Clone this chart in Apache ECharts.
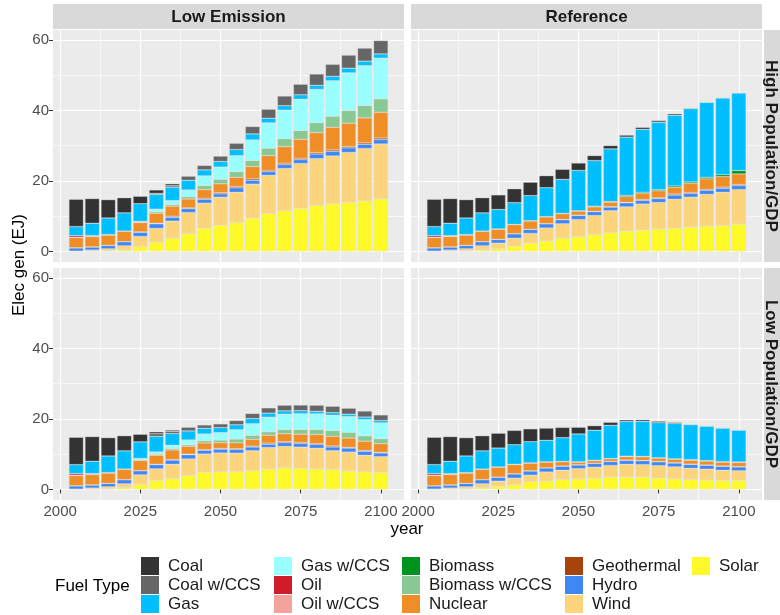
<!DOCTYPE html>
<html>
<head>
<meta charset="utf-8">
<script src="https://cdn.jsdelivr.net/npm/echarts@6/dist/echarts.min.js"></script>
<style>
  html, body { margin: 0; padding: 0; background: #ffffff; }
  #chart { width: 780px; height: 615px; }
</style>
</head>
<body>
<div id="chart"></div>
<script>
// Electricity generation by fuel (EJ), 5-year steps, faceted by policy x growth case
const years = [2005, 2010, 2015, 2020, 2025, 2030, 2035, 2040, 2045, 2050,
               2055, 2060, 2065, 2070, 2075, 2080, 2085, 2090, 2095, 2100];

const fuels = ['Coal', 'Coal w/CCS', 'Gas', 'Gas w/CCS', 'Oil', 'Oil w/CCS',
               'Biomass', 'Biomass w/CCS', 'Nuclear', 'Geothermal', 'Hydro', 'Wind', 'Solar'];

const fuelColors = ['#333333', '#666666', '#00bfff', '#99ffff', '#d01c2a', '#f4a29c',
                    '#00931d', '#88c892', '#ef8e27', '#a6440c', '#3f87f5', '#fcd47c', '#fefa2a'];

const policies = ['Low Emission', 'Reference'];
const growthCases = ['High Population/GDP', 'Low Population/GDP'];

const xTickLabels = [2000, 2025, 2050, 2075, 2100];
const yTickLabels = [0, 20, 40, 60];

// Low Emission, High Population/GDP
const lowEmissionHigh = {
  'Coal':          [7.75, 7.0, 5.2, 4.3, 2.1, 0.95, 0.5, 0, 0, 0, 0, 0, 0, 0, 0, 0, 0, 0, 0, 0],
  'Coal w/CCS':    [0, 0, 0, 0, 0, 0.35, 0.45, 1.15, 1.25, 1.5, 1.8, 2.1, 2.55, 2.75, 3.0, 3.2, 3.4, 3.7, 3.7, 3.8],
  'Gas':           [2.55, 3.5, 4.7, 5.15, 5.0, 4.15, 3.8, 2.75, 1.7, 1.6, 1.7, 1.7, 1.3, 1.25, 1.25, 1.15, 1.25, 1.3, 1.25, 1.2],
  'Gas w/CCS':     [0, 0, 0, 0, 0.25, 0.75, 1.15, 1.9, 2.75, 3.5, 4.55, 5.85, 7.2, 8.1, 8.9, 9.45, 10.1, 10.7, 11.35, 11.55],
  'Oil':           [0.45, 0.15, 0.05, 0, 0, 0, 0, 0, 0, 0, 0, 0, 0, 0, 0, 0, 0, 0, 0, 0],
  'Oil w/CCS':     [0, 0, 0, 0, 0, 0, 0, 0, 0, 0, 0, 0, 0, 0, 0, 0, 0, 0, 0, 0],
  'Biomass':       [0.1, 0.1, 0.1, 0.1, 0.05, 0, 0, 0, 0, 0, 0, 0, 0, 0, 0, 0, 0, 0, 0, 0],
  'Biomass w/CCS': [0, 0, 0, 0, 0.05, 0.4, 0.45, 0.65, 1.15, 1.25, 1.6, 1.7, 2.1, 2.25, 2.45, 2.85, 3.1, 3.6, 3.5, 3.8],
  'Nuclear':       [2.9, 2.95, 2.9, 2.9, 2.65, 2.85, 2.85, 2.55, 2.45, 2.55, 2.65, 3.5, 4.15, 4.7, 5.4, 5.65, 6.45, 6.6, 7.1, 7.3],
  'Geothermal':    [0.05, 0.05, 0.05, 0.05, 0.1, 0.15, 0.3, 0.2, 0.3, 0.3, 0.35, 0.4, 0.4, 0.4, 0.4, 0.4, 0.4, 0.4, 0.4, 0.45],
  'Hydro':         [0.9, 0.85, 0.95, 1.15, 1.2, 1.3, 1.1, 1.1, 1.1, 0.95, 1.25, 1.1, 1.05, 1.1, 1.1, 1.3, 1.3, 1.3, 1.2, 1.25],
  'Wind':          [0.1, 0.3, 0.55, 1.15, 2.85, 3.9, 4.8, 6.05, 7.1, 8.0, 8.6, 9.65, 10.9, 12.0, 12.75, 13.3, 13.6, 14.2, 14.85, 15.6],
  'Solar':         [0, 0.1, 0.2, 0.45, 1.4, 2.65, 3.8, 5.0, 6.6, 7.4, 8.2, 9.45, 10.7, 11.55, 12.2, 13.05, 13.5, 13.9, 14.35, 14.9]
};

// Reference, High Population/GDP
const referenceHigh = {
  'Coal':          [7.75, 7.0, 5.2, 4.3, 4.15, 3.95, 3.8, 3.4, 2.85, 2.1, 1.4, 0.95, 0.55, 0.55, 0.45, 0.4, 0.2, 0.1, 0.05, 0.05],
  'Coal w/CCS':    [0, 0, 0, 0, 0, 0, 0, 0, 0, 0, 0, 0, 0, 0, 0, 0, 0, 0, 0, 0],
  'Gas':           [2.55, 3.5, 4.7, 5.15, 5.5, 6.15, 7.1, 8.2, 9.65, 11.45, 12.95, 14.9, 16.55, 17.85, 19.2, 20.05, 20.8, 21.25, 21.75, 22.0],
  'Gas w/CCS':     [0, 0, 0, 0, 0, 0, 0, 0, 0, 0, 0, 0, 0, 0, 0, 0, 0, 0, 0, 0],
  'Oil':           [0.45, 0.15, 0.05, 0, 0, 0, 0, 0, 0, 0, 0, 0, 0, 0, 0, 0, 0, 0, 0, 0],
  'Oil w/CCS':     [0, 0, 0, 0, 0, 0, 0, 0, 0, 0, 0, 0, 0, 0, 0, 0, 0, 0, 0, 0],
  'Biomass':       [0.1, 0.1, 0.1, 0.1, 0.1, 0.1, 0.1, 0.1, 0.1, 0.1, 0.2, 0.2, 0.35, 0.4, 0.3, 0.4, 0.4, 0.45, 0.55, 0.95],
  'Biomass w/CCS': [0, 0, 0, 0, 0, 0, 0, 0, 0, 0, 0, 0, 0, 0, 0, 0, 0, 0, 0, 0],
  'Nuclear':       [2.9, 2.95, 2.9, 2.9, 2.85, 2.55, 2.35, 1.9, 1.6, 1.15, 1.25, 1.3, 1.6, 1.7, 2.0, 1.9, 2.55, 2.95, 3.0, 3.0],
  'Geothermal':    [0.05, 0.05, 0.05, 0.05, 0.05, 0.05, 0.05, 0.05, 0.1, 0.1, 0.1, 0.1, 0.15, 0.2, 0.2, 0.3, 0.3, 0.3, 0.3, 0.3],
  'Hydro':         [0.9, 0.85, 0.95, 1.15, 1.05, 1.25, 1.15, 1.2, 1.15, 1.15, 1.1, 1.05, 1.15, 1.05, 1.1, 1.2, 1.05, 1.15, 1.15, 1.15],
  'Wind':          [0.1, 0.3, 0.55, 1.15, 1.6, 2.25, 2.75, 3.7, 4.05, 4.9, 5.4, 6.25, 6.9, 7.4, 7.55, 8.2, 8.5, 9.0, 9.45, 9.8],
  'Solar':         [0, 0.1, 0.2, 0.45, 0.75, 1.5, 2.35, 2.95, 3.8, 4.15, 4.8, 5.3, 5.75, 6.05, 6.35, 6.6, 6.9, 7.2, 7.35, 7.75]
};

// Low Emission, Low Population/GDP
const lowEmissionLow = {
  'Coal':          [7.75, 7.0, 5.2, 4.3, 2.15, 0.55, 0.35, 0, 0, 0, 0, 0, 0, 0, 0, 0, 0, 0, 0, 0],
  'Coal w/CCS':    [0, 0, 0, 0, 0, 0.75, 0.65, 1.05, 0.95, 1.05, 1.2, 1.4, 1.5, 1.6, 1.6, 1.7, 1.8, 1.7, 1.7, 1.6],
  'Gas':           [2.55, 3.5, 4.7, 5.15, 4.7, 4.4, 3.3, 2.55, 1.6, 1.4, 1.4, 1.5, 1.15, 0.95, 0.85, 0.75, 0.75, 0.65, 0.75, 0.65],
  'Gas w/CCS':     [0, 0, 0, 0, 0.45, 0.65, 0.95, 1.4, 1.9, 2.15, 2.65, 3.3, 4.15, 4.35, 4.5, 4.45, 4.35, 4.5, 4.6, 4.5],
  'Oil':           [0.45, 0.15, 0.05, 0, 0, 0, 0, 0, 0, 0, 0, 0, 0, 0, 0, 0, 0, 0, 0, 0],
  'Oil w/CCS':     [0, 0, 0, 0, 0, 0, 0, 0, 0, 0, 0, 0, 0, 0, 0, 0, 0, 0, 0, 0],
  'Biomass':       [0.1, 0.1, 0.1, 0.1, 0.05, 0, 0, 0, 0, 0, 0, 0, 0, 0, 0, 0, 0, 0, 0, 0],
  'Biomass w/CCS': [0, 0, 0, 0, 0.05, 0.3, 0.4, 0.4, 0.65, 0.75, 1.05, 1.15, 0.95, 1.2, 1.3, 1.4, 1.6, 1.6, 1.5, 1.4],
  'Nuclear':       [2.9, 2.95, 2.9, 2.9, 2.9, 2.55, 2.75, 2.25, 1.9, 1.6, 1.7, 1.9, 2.25, 2.25, 2.35, 2.55, 2.75, 2.65, 2.65, 2.45],
  'Geothermal':    [0.05, 0.05, 0.05, 0.05, 0.05, 0.1, 0.1, 0.15, 0.2, 0.2, 0.2, 0.25, 0.3, 0.3, 0.3, 0.3, 0.3, 0.2, 0.2, 0.2],
  'Hydro':         [0.9, 0.85, 0.95, 1.15, 1.15, 1.2, 1.2, 1.2, 1.05, 1.1, 1.05, 1.05, 0.95, 1.05, 1.05, 1.05, 1.05, 1.15, 1.15, 1.05],
  'Wind':          [0.1, 0.3, 0.55, 1.15, 2.75, 3.3, 4.05, 4.7, 5.15, 5.35, 5.25, 5.65, 6.1, 6.1, 6.0, 5.9, 5.35, 5.35, 4.7, 4.5],
  'Solar':         [0, 0.1, 0.2, 0.45, 1.4, 2.55, 3.1, 3.95, 4.9, 5.0, 5.05, 5.35, 5.8, 6.1, 6.0, 5.8, 5.65, 5.25, 5.0, 4.8]
};

// Reference, Low Population/GDP
const referenceLow = {
  'Coal':          [7.75, 7.0, 5.2, 4.3, 4.2, 4.05, 3.65, 3.45, 2.9, 1.9, 1.3, 0.85, 0.45, 0.45, 0.4, 0.3, 0.1, 0.05, 0.05, 0.05],
  'Coal w/CCS':    [0, 0, 0, 0, 0, 0, 0, 0, 0, 0, 0, 0, 0, 0, 0, 0, 0, 0, 0, 0],
  'Gas':           [2.55, 3.5, 4.7, 5.15, 5.35, 5.55, 6.0, 6.1, 6.75, 7.9, 8.5, 9.4, 9.85, 9.95, 9.95, 10.0, 9.95, 9.75, 9.5, 9.0],
  'Gas w/CCS':     [0, 0, 0, 0, 0, 0, 0, 0, 0, 0, 0, 0, 0, 0, 0, 0, 0, 0, 0, 0],
  'Oil':           [0.45, 0.15, 0.05, 0, 0, 0, 0, 0, 0, 0, 0, 0, 0, 0, 0, 0, 0, 0, 0, 0],
  'Oil w/CCS':     [0, 0, 0, 0, 0, 0, 0, 0, 0, 0, 0, 0, 0, 0, 0, 0, 0, 0, 0, 0],
  'Biomass':       [0.1, 0.1, 0.1, 0.1, 0.1, 0.1, 0.1, 0.1, 0.1, 0.1, 0.1, 0.1, 0.15, 0.15, 0.1, 0.1, 0.15, 0.15, 0.15, 0.15],
  'Biomass w/CCS': [0, 0, 0, 0, 0, 0, 0, 0, 0, 0, 0, 0, 0, 0, 0, 0, 0, 0, 0, 0],
  'Nuclear':       [2.9, 2.95, 2.9, 2.9, 2.8, 2.6, 2.15, 1.6, 1.2, 0.75, 0.75, 0.75, 0.95, 1.0, 0.95, 1.0, 1.1, 1.1, 1.1, 1.15],
  'Geothermal':    [0.05, 0.05, 0.05, 0.05, 0.05, 0.05, 0.05, 0.05, 0.05, 0.05, 0.05, 0.05, 0.1, 0.1, 0.1, 0.1, 0.1, 0.1, 0.1, 0.1],
  'Hydro':         [0.9, 0.85, 0.95, 1.15, 1.1, 1.2, 1.2, 1.15, 1.15, 1.05, 1.1, 1.1, 1.1, 1.1, 1.1, 1.1, 1.1, 1.1, 1.1, 1.1],
  'Wind':          [0.1, 0.3, 0.55, 1.15, 1.5, 1.9, 1.9, 2.6, 2.65, 2.9, 3.1, 3.3, 3.65, 3.55, 3.55, 3.4, 3.2, 3.1, 2.9, 2.75],
  'Solar':         [0, 0.1, 0.2, 0.45, 0.85, 1.3, 2.15, 2.35, 2.8, 3.0, 3.2, 3.5, 3.5, 3.5, 3.2, 3.0, 2.8, 2.65, 2.55, 2.55]
};

// ---- layout ----
const FONT = '"Liberation Sans", Arial, Helvetica, sans-serif';
const PANEL_LEFT = [53, 411];
const PANEL_TOP = [30, 268];
const PANEL_W = 351;
const PANEL_H = 232;
const STEP = 5;                      // years between bars

const panels = [
  { values: lowEmissionHigh, row: 0, col: 0 },
  { values: referenceHigh,   row: 0, col: 1 },
  { values: lowEmissionLow,  row: 1, col: 0 },
  { values: referenceLow,    row: 1, col: 1 }
];

// shared scales with 5% padding on each side
let maxTotal = 0;
panels.forEach(p => {
  years.forEach((_, i) => {
    const t = fuels.reduce((s, f) => s + p.values[f][i], 0);
    if (t > maxTotal) maxTotal = t;
  });
});
const yMin = -0.05 * maxTotal;
const yMax = 1.05 * maxTotal;
const xLo = years[0] - 0.45 * STEP;
const xHi = years[years.length - 1] + 0.45 * STEP;
const xMin = xLo - 0.05 * (xHi - xLo);
const xMax = xHi + 0.05 * (xHi - xLo);
const pxPerYear = PANEL_W / (xMax - xMin);
// the category band for the bars covers [first - STEP/2, last + STEP/2]
const bandOffset = (years[0] - STEP / 2 - xMin) * pxPerYear;
const bandWidth = years.length * STEP * pxPerYear;

const xMinor = xTickLabels.slice(0, -1).map((v, i) => (v + xTickLabels[i + 1]) / 2);
const yMinor = yTickLabels.slice(0, -1).map((v, i) => (v + yTickLabels[i + 1]) / 2);

const grids = [], xAxes = [], yAxes = [], series = [];
const stackOrder = fuels.slice().reverse();   // Solar sits at the bottom, Coal on top

panels.forEach((p, k) => {
  const outerX = p.row === 1;
  const outerY = p.col === 0;
  const left = PANEL_LEFT[p.col], top = PANEL_TOP[p.row];
  const g = grids.length;
  // panel background, grid lines and tick labels
  grids.push({
    left: left, top: top, width: PANEL_W, height: PANEL_H,
    show: true, backgroundColor: '#ebebeb', borderWidth: 0,
    containLabel: false, outerBoundsMode: 'none'
  });
  // bar area aligned with the year scale
  grids.push({
    left: left + bandOffset, top: top, width: bandWidth, height: PANEL_H,
    show: false, containLabel: false, outerBoundsMode: 'none'
  });
  const xi = xAxes.length, yi = yAxes.length;
  xAxes.push({
    gridIndex: g, type: 'value', min: xMin, max: xMax,
    axisLine: { show: false }, axisLabel: { show: false },
    axisTick: { show: false, customValues: xMinor },
    splitLine: { show: true, lineStyle: { color: '#ffffff', width: 0.6 } }
  });
  yAxes.push({
    gridIndex: g, type: 'value', min: yMin, max: yMax,
    axisLine: { show: false }, axisLabel: { show: false },
    axisTick: { show: false, customValues: yMinor },
    splitLine: { show: true, lineStyle: { color: '#ffffff', width: 0.6 } }
  });
  xAxes.push({
    gridIndex: g, type: 'value', min: xMin, max: xMax, position: 'bottom',
    axisLine: { show: false },
    axisTick: { show: outerX, customValues: xTickLabels, length: 4, lineStyle: { color: '#333333', width: 1 } },
    axisLabel: { show: outerX, customValues: xTickLabels, formatter: v => String(v),
                 color: '#4d4d4d', fontSize: 15, fontFamily: FONT, margin: 4 },
    splitLine: { show: true, lineStyle: { color: '#ffffff', width: 1.2 } }
  });
  yAxes.push({
    gridIndex: g, type: 'value', min: yMin, max: yMax, position: 'left',
    axisLine: { show: false },
    axisTick: { show: outerY, customValues: yTickLabels, length: 4, lineStyle: { color: '#333333', width: 1 } },
    axisLabel: { show: outerY, customValues: yTickLabels, formatter: v => String(v),
                 color: '#4d4d4d', fontSize: 15, fontFamily: FONT, margin: 4 },
    splitLine: { show: true, lineStyle: { color: '#ffffff', width: 1.2 } }
  });
  // axes carrying the bars
  xAxes.push({
    gridIndex: g + 1, type: 'category', data: years.map(String), boundaryGap: true, show: false
  });
  yAxes.push({
    gridIndex: g + 1, type: 'value', min: yMin, max: yMax, show: false, splitLine: { show: false }
  });
  stackOrder.forEach(f => {
    const vals = p.values[f];
    series.push({
      type: 'bar', name: f, stack: 'panel' + k,
      xAxisIndex: xi + 2, yAxisIndex: yi + 2,
      barWidth: '90%',
      itemStyle: { color: fuelColors[fuels.indexOf(f)], borderColor: 'rgba(220,220,220,0.6)', borderWidth: 0.5 },
      emphasis: { disabled: true },
      data: vals.map(v => (v > 0 ? v : '-'))
    });
  });
});

// legend: five columns of three keys
const legendColumns = [
  { names: fuels.slice(0, 3),  left: 141 },
  { names: fuels.slice(3, 6),  left: 274 },
  { names: fuels.slice(6, 9),  left: 402 },
  { names: fuels.slice(9, 12), left: 565 },
  { names: fuels.slice(12),    left: 692 }
];
const legends = legendColumns.map(c => ({
  data: c.names, left: c.left, top: 557, orient: 'vertical', padding: 0,
  itemWidth: 18, itemHeight: 18, itemGap: 1, icon: 'rect', selectedMode: false,
  itemStyle: { borderWidth: 0 },
  textStyle: { color: '#1a1a1a', fontSize: 17, fontFamily: FONT, padding: [0, 0, 0, 4] }
}));

// facet strips and titles
const graphics = [];
policies.forEach((name, c) => {
  graphics.push({ type: 'rect', shape: { x: PANEL_LEFT[c], y: 4, width: PANEL_W, height: 25 },
                  style: { fill: '#d9d9d9' }, silent: true });
  graphics.push({ type: 'text', x: PANEL_LEFT[c] + PANEL_W / 2, y: 17,
                  style: { text: name, fill: '#1a1a1a', font: 'bold 17px ' + FONT, textAlign: 'center', textVerticalAlign: 'middle' } });
});
growthCases.forEach((name, r) => {
  graphics.push({ type: 'rect', shape: { x: 764, y: PANEL_TOP[r], width: 30, height: PANEL_H },
                  style: { fill: '#d9d9d9' }, silent: true });
  graphics.push({ type: 'text', x: 771, y: PANEL_TOP[r] + PANEL_H / 2, rotation: -Math.PI / 2,
                  style: { text: name, fill: '#1a1a1a', font: 'bold 17px ' + FONT, textAlign: 'center', textVerticalAlign: 'middle' } });
});
graphics.push({ type: 'text', x: 19, y: 265, rotation: Math.PI / 2,
                style: { text: 'Elec gen (EJ)', fill: '#000000', font: '17px ' + FONT, textAlign: 'center', textVerticalAlign: 'middle' } });
graphics.push({ type: 'text', x: 407, y: 529,
                style: { text: 'year', fill: '#000000', font: '17px ' + FONT, textAlign: 'center', textVerticalAlign: 'middle' } });
graphics.push({ type: 'text', x: 55, y: 586,
                style: { text: 'Fuel Type', fill: '#000000', font: '17px ' + FONT, textAlign: 'left', textVerticalAlign: 'middle' } });

const chart = echarts.init(document.getElementById('chart'), null, { renderer: 'canvas' });
chart.setOption({
  backgroundColor: '#ffffff',
  animation: false,
  grid: grids,
  xAxis: xAxes,
  yAxis: yAxes,
  legend: legends,
  graphic: graphics,
  series: series
});
</script>
</body>
</html>
